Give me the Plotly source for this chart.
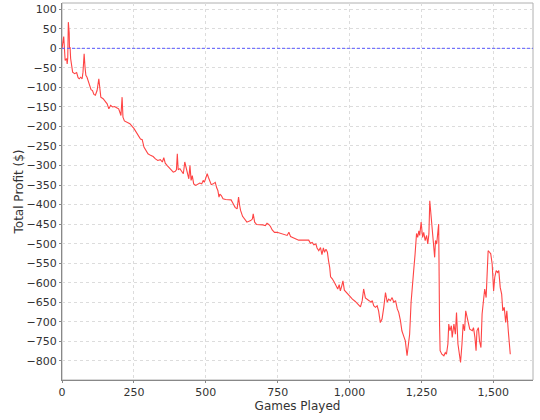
import plotly.graph_objects as go

# Cumulative profit, game number vs total profit ($)
games = [0, 3, 6, 11, 16, 18, 20, 22, 25, 26, 28, 30, 33, 37, 44, 51, 56, 60, 65, 70,
         73, 77, 80, 83, 87, 92, 97, 101, 106, 111, 116, 122, 128, 132, 135, 143, 150, 157, 163, 169,
         176, 183, 190, 197, 201, 205, 209, 212, 217, 226, 236, 244, 250,
         273, 279, 285, 291, 299, 308, 317, 325, 333, 342, 349, 354, 359, 366, 373, 380, 387,
         394, 398, 401, 404, 410, 417, 422, 427, 432, 436, 441, 445, 449, 453, 458, 465, 472, 479,
         486, 491, 495, 500, 505, 509, 514, 519, 526, 533, 538, 542, 546, 549, 554, 560, 569, 579,
         588, 595, 602, 609, 614, 618, 621, 628, 643,
         656, 662, 665, 670, 677, 687, 699, 707, 713, 719, 725, 731, 739, 748, 760, 771, 783, 789,
         795, 804, 811, 823, 841, 858, 864, 870, 876, 883, 887, 893, 899, 904, 909, 913, 918, 923,
         927, 931, 934, 940, 947, 954, 959, 964, 968, 973, 977, 982, 989, 996, 1003, 1010, 1020, 1030,
         1038, 1044, 1049, 1055, 1062, 1068, 1075, 1079, 1084, 1090, 1096, 1101, 1107, 1113, 1119, 1125,
         1131, 1136, 1142, 1148, 1154, 1160, 1166, 1171, 1177, 1182, 1188, 1194, 1200, 1204, 1209, 1214,
         1218, 1223, 1228, 1232,
         1233, 1237, 1241, 1244, 1249, 1254, 1258, 1263, 1268, 1272, 1276, 1279, 1283, 1286, 1291, 1296,
         1299, 1303, 1307, 1310, 1313, 1315, 1321, 1328, 1333, 1337, 1342, 1345, 1349, 1354, 1357, 1363,
         1368, 1372, 1377, 1381, 1386, 1391, 1395, 1400, 1404, 1409, 1414, 1418,
         1427, 1431, 1436, 1440, 1443, 1448, 1452, 1457, 1461, 1466, 1470, 1475, 1480, 1482, 1487, 1491,
         1496, 1501, 1505, 1510, 1515, 1519, 1524, 1529, 1533, 1538, 1543, 1547, 1552, 1556, 1559]
profit = [0, 15, 30, -31, -26, -40, -25, 67, 40, 0, 3, -26, -43, -61, -65, -62, -75, -78, -74, -78,
          -61, -14, -48, -69, -74, -87, -101, -106, -108, -118, -120, -108, -78, -99, -125, -129, -135, -142, -155, -146,
          -150, -149, -152, -155, -163, -172, -125, -176, -186, -189, -193, -200, -205,
          -232, -234, -253, -262, -270, -274, -277, -283, -287, -285, -291, -280, -294, -300, -306, -313, -317,
          -315, -311, -270, -311, -308, -315, -321, -291, -308, -317, -334, -300, -338, -326, -347, -351, -349, -345,
          -347, -338, -343, -334, -321, -330, -338, -349, -347, -343, -357, -364, -381, -373, -377, -385, -387, -387,
          -388, -397, -407, -411, -381, -403, -415, -430, -445,
          -441, -437, -424, -445, -451, -451, -452, -454, -448, -451, -456, -465, -471, -471, -474, -477, -479, -471,
          -482, -485, -488, -491, -491, -491, -499, -497, -503, -501, -511, -518, -510, -528, -511, -522, -514, -522,
          -544, -561, -585, -590, -599, -608, -616, -605, -621, -608, -595, -619, -625, -631, -636, -642, -648, -655,
          -662, -646, -616, -639, -642, -646, -650, -646, -659, -663, -659, -672, -702, -693, -663, -625,
          -650, -642, -646, -638, -650, -646, -667, -676, -697, -723, -736, -749, -787, -753, -732, -650,
          -621, -569, -526, -492,
          -474, -484, -467, -479, -445, -484, -471, -492, -479, -501, -475, -390, -424, -441, -475, -535,
          -492, -501, -471, -450, -706, -774, -783, -787, -779, -783, -757, -706, -723, -710, -740, -706,
          -732, -676, -757, -774, -804, -757, -706, -723, -672, -689, -702, -719,
          -723, -715, -740, -774, -723, -715, -749, -766, -680, -646, -616, -638, -569, -518, -522, -526,
          -552, -621, -586, -569, -574, -569, -612, -629, -672, -663, -702, -672, -723, -749, -783]

x_ticks = [0, 250, 500, 750, 1000, 1250, 1500]
y_ticks = list(range(-800, 101, 50))

fig = go.Figure()
fig.add_trace(go.Scatter(x=games, y=profit, mode='lines',
    line=dict(color='#ff4444', width=1.1), showlegend=False, hoverinfo='x+y'))

# Break-even line
fig.add_hline(y=0, line=dict(color='#5a5aff', width=1, dash='3px,2px'))

axis_font = dict(family='DejaVu Sans, sans-serif', size=11, color='#333333')
fig.update_layout(
    width=540, height=420,
    margin=dict(l=62, r=7, t=3, b=40),
    paper_bgcolor='white', plot_bgcolor='white',
    font=dict(family='DejaVu Sans, sans-serif', size=11, color='#333333'),
    showlegend=False,
)
fig.update_xaxes(range=[0, 1638], tickvals=x_ticks, tickformat=',d', automargin=False,
    showgrid=True, gridcolor='#dcdcdc', griddash='3px,3px', gridwidth=1,
    showline=True, linecolor='#888888', linewidth=1, mirror=False,
    ticks='outside', ticklen=2, tickcolor='#888888', zeroline=False,
    tickfont=axis_font, title=dict(text='Games Played', font=dict(size=12, color='#333333'), standoff=3))
fig.update_yaxes(range=[-849, 116], tickvals=y_ticks, automargin=False,
    showgrid=True, gridcolor='#dcdcdc', griddash='3px,3px', gridwidth=1,
    showline=True, linecolor='#888888', linewidth=1, mirror=False,
    ticks='outside', ticklen=2, tickcolor='#888888', zeroline=False,
    tickfont=axis_font, title=dict(text='Total Profit ($)', font=dict(size=12, color='#333333'), standoff=0))

# Light outline around the plot area (top and right edges)
fig.add_shape(type='rect', xref='paper', yref='paper', x0=0, y0=0, x1=1, y1=1,
    line=dict(color='#b0b0b0', width=1), layer='below')

# drop the page's default body margin so the chart sits at the window corner
fig.write_html("out.html", config={'displayModeBar': False},
    post_script="document.body.style.margin='0';")
